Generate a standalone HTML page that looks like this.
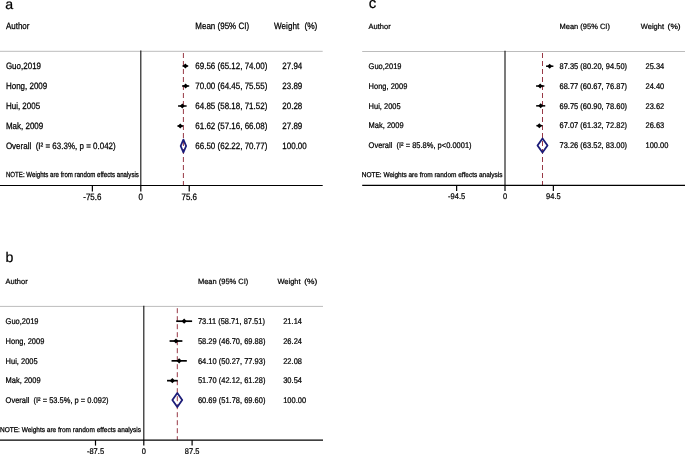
<!DOCTYPE html>
<html><head><meta charset="utf-8"><style>
html,body{margin:0;padding:0;background:#fff;}
svg{display:block;filter:blur(0.35px);}
text{text-rendering:geometricPrecision;font-family:"Liberation Sans",sans-serif;fill:#000;stroke:#000;stroke-width:2.2px;}
</style></head><body>
<svg width="685" height="454" viewBox="0 0 685 454">
<rect width="685" height="454" fill="#fff"/>
<text transform="translate(5.20 8.50) scale(0.1 0.1)" font-size="142.00" >a</text>
<text transform="translate(5.90 28.90) scale(0.1 0.11499999999999999)" font-size="80.00" >Author</text>
<text transform="translate(195.30 28.90) scale(0.1 0.11499999999999999)" font-size="80.00" >Mean (95% CI)</text>
<text transform="translate(274.00 28.90) scale(0.1 0.11499999999999999)" font-size="80.00" textLength="252.00" lengthAdjust="spacingAndGlyphs">Weight</text>
<text transform="translate(304.40 28.90) scale(0.1 0.11499999999999999)" font-size="80.00" textLength="130.00" lengthAdjust="spacingAndGlyphs">(%)</text>
<line x1="0" y1="51.3" x2="322.7" y2="51.3" stroke="#bcbcbc" stroke-width="1"/>
<line x1="140.8" y1="50.599999999999994" x2="140.8" y2="185.5" stroke="#1a1a1a" stroke-width="1.15"/>
<line x1="183.4" y1="53" x2="183.4" y2="185.5" stroke="#983845" stroke-width="1" stroke-dasharray="5 3"/>
<line x1="182.52" y1="66.00" x2="188.20" y2="66.00" stroke="#000" stroke-width="1.5"/>
<path d="M182.86 66.00 L185.36 63.50 L187.86 66.00 L185.36 68.50Z" fill="#000"/>
<text transform="translate(5.90 68.70) scale(0.1 0.11499999999999999)" font-size="80.00" >Guo,2019</text>
<text transform="translate(195.30 68.70) scale(0.1 0.11499999999999999)" font-size="80.00" >69.56 (65.12, 74.00)</text>
<text transform="translate(282.30 68.70) scale(0.1 0.11499999999999999)" font-size="80.00" >27.94</text>
<line x1="182.09" y1="86.00" x2="189.20" y2="86.00" stroke="#000" stroke-width="1.5"/>
<path d="M183.14 86.00 L185.64 83.50 L188.14 86.00 L185.64 88.50Z" fill="#000"/>
<text transform="translate(5.90 88.70) scale(0.1 0.11499999999999999)" font-size="80.00" >Hong, 2009</text>
<text transform="translate(195.30 88.70) scale(0.1 0.11499999999999999)" font-size="80.00" >70.00 (64.45, 75.55)</text>
<text transform="translate(282.30 88.70) scale(0.1 0.11499999999999999)" font-size="80.00" >23.89</text>
<line x1="178.07" y1="106.00" x2="186.62" y2="106.00" stroke="#000" stroke-width="1.5"/>
<path d="M179.84 106.00 L182.34 103.50 L184.84 106.00 L182.34 108.50Z" fill="#000"/>
<text transform="translate(5.90 108.70) scale(0.1 0.11499999999999999)" font-size="80.00" >Hui, 2005</text>
<text transform="translate(195.30 108.70) scale(0.1 0.11499999999999999)" font-size="80.00" >64.85 (58.18, 71.52)</text>
<text transform="translate(282.30 108.70) scale(0.1 0.11499999999999999)" font-size="80.00" >20.28</text>
<line x1="177.42" y1="126.00" x2="183.13" y2="126.00" stroke="#000" stroke-width="1.5"/>
<path d="M177.77 126.00 L180.27 123.50 L182.77 126.00 L180.27 128.50Z" fill="#000"/>
<text transform="translate(5.90 128.70) scale(0.1 0.11499999999999999)" font-size="80.00" >Mak, 2009</text>
<text transform="translate(195.30 128.70) scale(0.1 0.11499999999999999)" font-size="80.00" >61.62 (57.16, 66.08)</text>
<text transform="translate(282.30 128.70) scale(0.1 0.11499999999999999)" font-size="80.00" >27.89</text>
<path d="M180.66 146.00 L183.40 139.60 L186.14 146.00 L183.40 152.40Z" fill="none" stroke="#1c1c78" stroke-width="1.8" stroke-linejoin="round"/>
<text transform="translate(5.90 148.70) scale(0.1 0.11499999999999999)" font-size="80.00" >Overall&#160;&#160;(I² = 63.3%, p = 0.042)</text>
<text transform="translate(195.30 148.70) scale(0.1 0.11499999999999999)" font-size="80.00" >66.50 (62.22, 70.77)</text>
<text transform="translate(282.30 148.70) scale(0.1 0.11499999999999999)" font-size="80.00" >100.00</text>
<text transform="translate(5.90 176.80) scale(0.1 0.12)" font-size="62.00" textLength="1330.00" lengthAdjust="spacingAndGlyphs">NOTE: Weights are from random effects analysis</text>
<line x1="0" y1="185.5" x2="322.7" y2="185.5" stroke="#000" stroke-width="1.2"/>
<line x1="92.37" y1="185.5" x2="92.37" y2="191.5" stroke="#000" stroke-width="1.2"/>
<text transform="translate(92.37 199.80) scale(0.1 0.11499999999999999)" font-size="80.00" text-anchor="middle">-75.6</text>
<line x1="140.80" y1="185.5" x2="140.80" y2="191.5" stroke="#000" stroke-width="1.2"/>
<text transform="translate(140.80 199.80) scale(0.1 0.11499999999999999)" font-size="80.00" text-anchor="middle">0</text>
<line x1="189.23" y1="185.5" x2="189.23" y2="191.5" stroke="#000" stroke-width="1.2"/>
<text transform="translate(189.23 199.80) scale(0.1 0.11499999999999999)" font-size="80.00" text-anchor="middle">75.6</text>
<text transform="translate(5.50 262.40) scale(0.1 0.1)" font-size="142.00" >b</text>
<text transform="translate(5.60 284.00) scale(0.1 0.1016)" font-size="75.00" >Author</text>
<text transform="translate(197.90 284.00) scale(0.1 0.1016)" font-size="75.00" >Mean (95% CI)</text>
<text transform="translate(277.40 284.00) scale(0.1 0.1016)" font-size="75.00" textLength="232.00" lengthAdjust="spacingAndGlyphs">Weight</text>
<text transform="translate(304.30 284.00) scale(0.1 0.1016)" font-size="75.00" textLength="130.00" lengthAdjust="spacingAndGlyphs">(%)</text>
<line x1="0" y1="306.4" x2="323" y2="306.4" stroke="#bcbcbc" stroke-width="1"/>
<line x1="143.8" y1="305.7" x2="143.8" y2="440.1" stroke="#1a1a1a" stroke-width="1.15"/>
<line x1="177.3" y1="308.2" x2="177.3" y2="440.1" stroke="#983845" stroke-width="1" stroke-dasharray="5 3"/>
<line x1="176.21" y1="321.20" x2="192.10" y2="321.20" stroke="#000" stroke-width="1.7"/>
<path d="M181.56 321.20 L184.16 318.60 L186.76 321.20 L184.16 323.80Z" fill="#000"/>
<text transform="translate(5.60 323.90) scale(0.1 0.1105)" font-size="75.00" >Guo,2019</text>
<text transform="translate(197.90 323.90) scale(0.1 0.1105)" font-size="75.00" >73.11 (58.71, 87.51)</text>
<text transform="translate(283.20 323.90) scale(0.1 0.1105)" font-size="75.00" >21.14</text>
<line x1="169.58" y1="341.02" x2="182.37" y2="341.02" stroke="#000" stroke-width="1.7"/>
<path d="M173.38 341.02 L175.98 338.42 L178.58 341.02 L175.98 343.62Z" fill="#000"/>
<text transform="translate(5.60 343.72) scale(0.1 0.1105)" font-size="75.00" >Hong, 2009</text>
<text transform="translate(197.90 343.72) scale(0.1 0.1105)" font-size="75.00" >58.29 (46.70, 69.88)</text>
<text transform="translate(283.20 343.72) scale(0.1 0.1105)" font-size="75.00" >26.24</text>
<line x1="171.55" y1="360.84" x2="186.82" y2="360.84" stroke="#000" stroke-width="1.7"/>
<path d="M176.58 360.84 L179.18 358.24 L181.78 360.84 L179.18 363.44Z" fill="#000"/>
<text transform="translate(5.60 363.54) scale(0.1 0.1105)" font-size="75.00" >Hui, 2005</text>
<text transform="translate(197.90 363.54) scale(0.1 0.1105)" font-size="75.00" >64.10 (50.27, 77.93)</text>
<text transform="translate(283.20 363.54) scale(0.1 0.1105)" font-size="75.00" >22.08</text>
<line x1="167.05" y1="380.66" x2="177.63" y2="380.66" stroke="#000" stroke-width="1.7"/>
<path d="M169.74 380.66 L172.34 378.06 L174.94 380.66 L172.34 383.26Z" fill="#000"/>
<text transform="translate(5.60 383.36) scale(0.1 0.1105)" font-size="75.00" >Mak, 2009</text>
<text transform="translate(197.90 383.36) scale(0.1 0.1105)" font-size="75.00" >51.70 (42.12, 61.28)</text>
<text transform="translate(283.20 383.36) scale(0.1 0.1105)" font-size="75.00" >30.54</text>
<path d="M172.38 400.08 L177.30 393.08 L182.22 400.08 L177.30 407.08Z" fill="none" stroke="#1c1c78" stroke-width="1.8" stroke-linejoin="round"/>
<text transform="translate(5.60 403.18) scale(0.1 0.1105)" font-size="75.00" >Overall&#160;&#160;(I² = 53.5%, p = 0.092)</text>
<text transform="translate(197.90 403.18) scale(0.1 0.1105)" font-size="75.00" >60.69 (51.78, 69.60)</text>
<text transform="translate(283.20 403.18) scale(0.1 0.1105)" font-size="75.00" >100.00</text>
<text transform="translate(0.00 432.00) scale(0.1 0.11499999999999999)" font-size="60.00" textLength="1410.00" lengthAdjust="spacingAndGlyphs">NOTE: Weights are from random effects analysis</text>
<line x1="0" y1="440.1" x2="323" y2="440.1" stroke="#000" stroke-width="1.2"/>
<line x1="95.50" y1="440.1" x2="95.50" y2="445.6" stroke="#000" stroke-width="1.2"/>
<text transform="translate(95.50 453.60) scale(0.1 0.1105)" font-size="75.00" text-anchor="middle">-87.5</text>
<line x1="143.80" y1="440.1" x2="143.80" y2="445.6" stroke="#000" stroke-width="1.2"/>
<text transform="translate(143.80 453.60) scale(0.1 0.1105)" font-size="75.00" text-anchor="middle">0</text>
<line x1="192.10" y1="440.1" x2="192.10" y2="445.6" stroke="#000" stroke-width="1.2"/>
<text transform="translate(192.10 453.60) scale(0.1 0.1105)" font-size="75.00" text-anchor="middle">87.5</text>
<text transform="translate(368.80 7.80) scale(0.1 0.1)" font-size="150.00" >c</text>
<text transform="translate(368.60 28.80) scale(0.1 0.1016)" font-size="75.00" >Author</text>
<text transform="translate(559.50 28.80) scale(0.1 0.1016)" font-size="75.00" >Mean (95% CI)</text>
<text transform="translate(640.80 28.80) scale(0.1 0.1016)" font-size="75.00" textLength="232.00" lengthAdjust="spacingAndGlyphs">Weight</text>
<text transform="translate(667.60 28.80) scale(0.1 0.1016)" font-size="75.00" textLength="130.00" lengthAdjust="spacingAndGlyphs">(%)</text>
<line x1="362.2" y1="51.5" x2="685" y2="51.5" stroke="#bcbcbc" stroke-width="1"/>
<line x1="505.0" y1="50.8" x2="505.0" y2="185.4" stroke="#1a1a1a" stroke-width="1.15"/>
<line x1="542.5" y1="53" x2="542.5" y2="185.4" stroke="#983845" stroke-width="1" stroke-dasharray="5 3"/>
<line x1="546.05" y1="66.20" x2="553.37" y2="66.20" stroke="#000" stroke-width="1.5"/>
<path d="M547.21 66.20 L549.71 63.70 L552.21 66.20 L549.71 68.70Z" fill="#000"/>
<text transform="translate(368.60 68.90) scale(0.1 0.1105)" font-size="75.00" >Guo,2019</text>
<text transform="translate(559.50 68.90) scale(0.1 0.1105)" font-size="75.00" >87.35 (80.20, 94.50)</text>
<text transform="translate(645.50 68.90) scale(0.1 0.1105)" font-size="75.00" >25.34</text>
<line x1="536.06" y1="86.02" x2="544.35" y2="86.02" stroke="#000" stroke-width="1.5"/>
<path d="M537.70 86.02 L540.20 83.52 L542.70 86.02 L540.20 88.52Z" fill="#000"/>
<text transform="translate(368.60 88.72) scale(0.1 0.1105)" font-size="75.00" >Hong, 2009</text>
<text transform="translate(559.50 88.72) scale(0.1 0.1105)" font-size="75.00" >68.77 (60.67, 76.87)</text>
<text transform="translate(645.50 88.72) scale(0.1 0.1105)" font-size="75.00" >24.40</text>
<line x1="536.17" y1="105.84" x2="545.23" y2="105.84" stroke="#000" stroke-width="1.5"/>
<path d="M538.20 105.84 L540.70 103.34 L543.20 105.84 L540.70 108.34Z" fill="#000"/>
<text transform="translate(368.60 108.54) scale(0.1 0.1105)" font-size="75.00" >Hui, 2005</text>
<text transform="translate(559.50 108.54) scale(0.1 0.1105)" font-size="75.00" >69.75 (60.90, 78.60)</text>
<text transform="translate(645.50 108.54) scale(0.1 0.1105)" font-size="75.00" >23.62</text>
<line x1="536.39" y1="125.66" x2="542.27" y2="125.66" stroke="#000" stroke-width="1.5"/>
<path d="M536.83 125.66 L539.33 123.16 L541.83 125.66 L539.33 128.16Z" fill="#000"/>
<text transform="translate(368.60 128.36) scale(0.1 0.1105)" font-size="75.00" >Mak, 2009</text>
<text transform="translate(559.50 128.36) scale(0.1 0.1105)" font-size="75.00" >67.07 (61.32, 72.82)</text>
<text transform="translate(645.50 128.36) scale(0.1 0.1105)" font-size="75.00" >26.63</text>
<path d="M537.51 145.48 L542.50 138.48 L547.49 145.48 L542.50 152.48Z" fill="none" stroke="#1c1c78" stroke-width="1.8" stroke-linejoin="round"/>
<text transform="translate(368.60 148.18) scale(0.1 0.1105)" font-size="75.00" >Overall&#160;&#160;(I² = 85.8%, p&lt;0.0001)</text>
<text transform="translate(559.50 148.18) scale(0.1 0.1105)" font-size="75.00" >73.26 (63.52, 83.00)</text>
<text transform="translate(645.50 148.18) scale(0.1 0.1105)" font-size="75.00" >100.00</text>
<text transform="translate(361.80 176.90) scale(0.1 0.11499999999999999)" font-size="60.00" textLength="1406.00" lengthAdjust="spacingAndGlyphs">NOTE: Weights are from random effects analysis</text>
<line x1="362.2" y1="185.4" x2="685" y2="185.4" stroke="#000" stroke-width="1.2"/>
<line x1="456.63" y1="185.4" x2="456.63" y2="190.9" stroke="#000" stroke-width="1.2"/>
<text transform="translate(456.63 198.60) scale(0.1 0.1105)" font-size="75.00" text-anchor="middle">-94.5</text>
<line x1="505.00" y1="185.4" x2="505.00" y2="190.9" stroke="#000" stroke-width="1.2"/>
<text transform="translate(505.00 198.60) scale(0.1 0.1105)" font-size="75.00" text-anchor="middle">0</text>
<line x1="553.37" y1="185.4" x2="553.37" y2="190.9" stroke="#000" stroke-width="1.2"/>
<text transform="translate(553.37 198.60) scale(0.1 0.1105)" font-size="75.00" text-anchor="middle">94.5</text>
</svg>
</body></html>
